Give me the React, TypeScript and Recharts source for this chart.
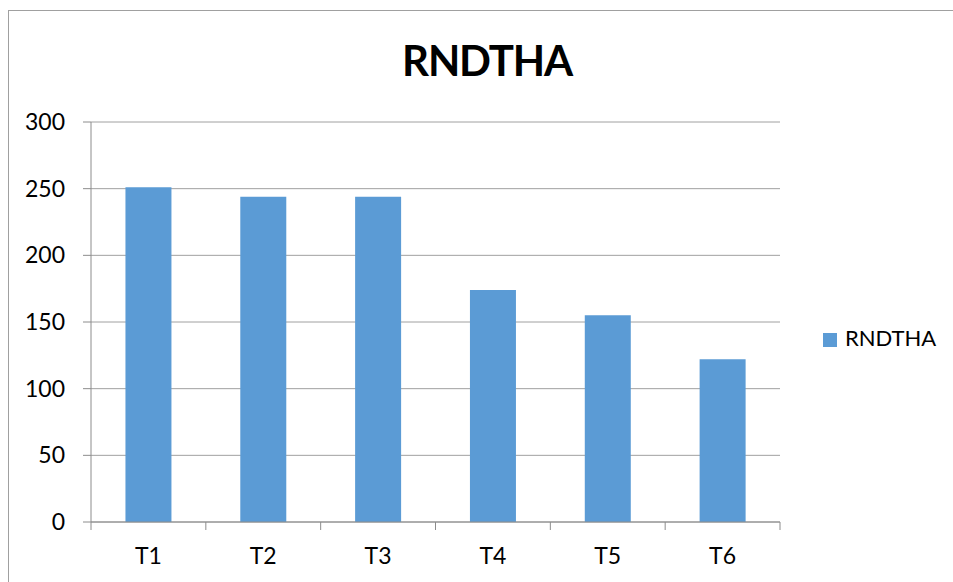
import { BarChart, Bar, XAxis, YAxis, CartesianGrid } from "recharts";

// values
const categories = ["T1", "T2", "T3", "T4", "T5", "T6"];
const rndtha = [251, 244, 244, 174, 155, 122];
const yTicks = [0, 50, 100, 150, 200, 250, 300];
const seriesName = "RNDTHA";
const chartTitle = "RNDTHA";

const data = categories.map((name, i) => ({ name, rndtha: rndtha[i] }));

const W = 953;
const H = 582;
const MARGIN = { top: 122, right: 173, bottom: 0, left: 0 };
const Y_AXIS_W = 91;
const X_AXIS_H = 60;
const TICK_SIZE = 8;
const TICK_MARGIN = 18;
const BAND = (W - MARGIN.left - MARGIN.right - Y_AXIS_W) / categories.length;

const FONT = "Lato, 'Open Sans', sans-serif";
const BAR = "#5b9bd5";
const AXIS = "#8c8c8c";
const GRID = "#a0a0a0";

function CategoryTick(props: any) {
  const { x, y, payload, index } = props;
  const axisY = y - TICK_SIZE - TICK_MARGIN;
  const left = x - BAND / 2;
  const right = x + BAND / 2;
  return (
    <g>
      <line x1={left} x2={left} y1={axisY} y2={axisY + TICK_SIZE} stroke={AXIS} />
      {index === categories.length - 1 && (
        <line x1={right} x2={right} y1={axisY} y2={axisY + TICK_SIZE} stroke={AXIS} />
      )}
      <text
        x={x}
        y={y}
        dy="0.71em"
        textAnchor="middle"
        fontFamily={FONT}
        fontSize={23}
        fill="#000"
      >
        {payload.value}
      </text>
    </g>
  );
}

export default function App() {
  return (
    <div
      style={{
        position: "absolute",
        left: 0,
        top: 0,
        width: W,
        height: H,
        overflow: "hidden",
        background: "#fff",
        fontFamily: FONT,
      }}
    >
      {/* chart frame, runs off the right and bottom edges */}
      <div
        style={{
          position: "absolute",
          left: 8,
          top: 10,
          width: 1000,
          height: 1000,
          border: `1px solid ${GRID}`,
        }}
      />
      <div
        style={{
          position: "absolute",
          left: 387,
          top: 39,
          width: 200,
          textAlign: "center",
          fontSize: 42,
          lineHeight: "42px",
          fontWeight: 700,
          letterSpacing: -1.2,
          color: "#000",
        }}
      >
        {chartTitle}
      </div>
      <div style={{ position: "absolute", left: 0, top: 0 }}>
        <BarChart width={W} height={H} data={data} margin={MARGIN} barCategoryGap="30%">
          <CartesianGrid vertical={false} stroke={GRID} strokeWidth={1} />
          <YAxis
            domain={[0, 300]}
            ticks={yTicks}
            width={Y_AXIS_W}
            tickSize={TICK_SIZE}
            tickMargin={18}
            axisLine={{ stroke: AXIS }}
            tickLine={{ stroke: AXIS }}
            tick={{ fontFamily: FONT, fontSize: 23, fill: "#000" }}
          />
          <XAxis
            dataKey="name"
            height={X_AXIS_H}
            tickSize={TICK_SIZE}
            tickMargin={TICK_MARGIN}
            axisLine={{ stroke: AXIS }}
            tickLine={false}
            interval={0}
            tick={<CategoryTick />}
          />
          <Bar dataKey="rndtha" name={seriesName} fill={BAR} isAnimationActive={false} />
        </BarChart>
      </div>
      <div
        style={{
          position: "absolute",
          left: 823,
          top: 333,
          width: 14,
          height: 14,
          background: BAR,
        }}
      />
      <div
        style={{
          position: "absolute",
          left: 845,
          top: 327,
          fontSize: 22,
          lineHeight: "22px",
          color: "#000",
        }}
      >
        {seriesName}
      </div>
    </div>
  );
}
